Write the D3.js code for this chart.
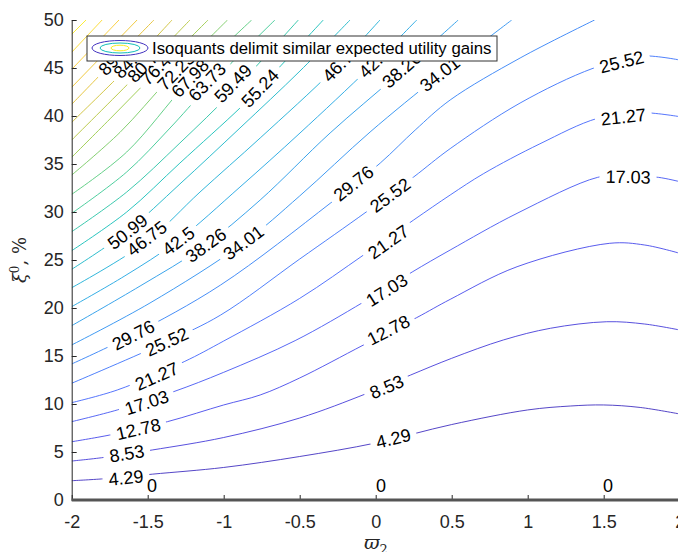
<!DOCTYPE html>
<html>
<head>
<meta charset="utf-8">
<script src="https://cdn.jsdelivr.net/npm/d3@7"></script>
<style>
  body { margin: 0; background: #fff; }
  text { font-family: "Liberation Sans", Arial, Helvetica, sans-serif; }
</style>
</head>
<body>
<div class="vis-contour"></div>
<script>
// isoquant levels and the lines, [varpi2, xi0 %]
const iso_4_29 = [[-2,2.01],[-1.79,2.21],[-1.47,2.69],[-1.0,3.39],[-0.5,4.53],[0.0,5.94],[0.5,7.86],[1.0,9.38],[1.28,9.79],[1.5,9.9],[1.74,9.64],[2.0,8.96]];
const iso_8_53 = [[-2,4.06],[-1.79,4.43],[-1.47,5.21],[-1.0,6.51],[-0.5,8.54],[-0.06,11.09],[0.23,13.02],[0.5,14.76],[0.84,16.67],[1.15,17.89],[1.52,18.57],[1.77,18.33],[2.0,17.71]];
const iso_12_78 = [[-2,6.07],[-1.75,6.77],[-1.37,8.16],[-1.0,9.9],[-0.76,10.94],[-0.5,12.71],[-0.08,16.15],[0.27,19.0],[0.49,20.9],[0.93,24.3],[1.54,26.74],[1.77,26.56],[2.0,25.7]];
const iso_17_03 = [[-2,8.16],[-1.7,9.38],[-1.33,11.28],[-1.0,13.3],[-0.53,16.6],[-0.08,20.62],[0.24,23.75],[0.49,26.04],[0.93,29.86],[1.46,33.61],[1.64,33.8],[1.86,33.61],[2.0,33.16]];
const iso_21_27 = [[-2,10.14],[-1.7,11.46],[-1.26,14.41],[-1.0,16.56],[-0.5,21.0],[-0.08,25.52],[0.25,29.17],[0.49,31.77],[0.71,34.0],[1.08,37.1],[1.46,39.76],[1.74,40.36],[2.0,39.93]];
const iso_25_52 = [[-2,12.16],[-1.37,16.51],[-1.02,19.27],[-0.5,25.1],[-0.06,30.03],[0.25,33.65],[0.49,36.6],[0.95,41.35],[1.43,44.97],[1.74,46.25],[2.0,45.83]];
const iso_29_76 = [[-2,14.17],[-1.6,17.19],[-1.02,22.4],[-0.3,30.9],[0.03,35.1],[0.26,38.54],[0.49,41.67],[0.95,46.04],[1.44,50]];
const iso_34_01 = [[-2,16.15],[-1.485,20.52],[-0.87,26.77],[-0.5,31.67],[-0.037,38.33],[0.403,44.06],[0.653,47.08],[0.895,50]];
const iso_38_26 = [[-2,18.16],[-1.55,22.29],[-1.134,26.39],[-0.76,31.25],[-0.3,38.23],[0.14,44.27],[0.543,50]];
const iso_42_5 = [[-2,20.14],[-1.65,23.35],[-1.31,26.91],[-0.893,32.6],[-0.498,38.23],[-0.037,45.1],[0.27,50]];
const iso_46_75 = [[-2,22.11],[-1.507,26.91],[-1.156,32.08],[-0.76,37.71],[-0.28,44.79],[0.028,50]];
const iso_50_99 = [[-2,24.03],[-1.638,27.95],[-1.288,32.92],[-0.893,38.75],[-0.498,44.69],[-0.169,50]];
const iso_55_24 = [[-2,25.97],[-1.638,30.0],[-1.288,35.1],[-0.893,40.83],[-0.762,42.92],[-0.345,50]];
const iso_59_49 = [[-2,27.95],[-1.638,32.08],[-1.288,37.19],[-0.939,42.6],[-0.509,50]];
const iso_63_73 = [[-2,29.86],[-1.638,34.17],[-1.353,38.75],[-1.112,42.92],[-0.663,50]];
const iso_67_98 = [[-2,31.84],[-1.638,36.25],[-1.233,43.6],[-0.816,50]];
const iso_72_23 = [[-2,33.85],[-1.682,38.3],[-1.364,43.8],[-0.975,50]];
const iso_76_47 = [[-2,35.7],[-1.748,39.7],[-1.485,43.93],[-1.103,50]];
const iso_80_72 = [[-2,37.5],[-1.572,44.27],[-1.222,50]];
const iso_84_97 = [[-2,39.34],[-1.661,44.61],[-1.34,50]];
const iso_89_21 = [[-2,41.22],[-1.77,44.97],[-1.459,50]];
const iso_93_46 = [[-2,42.99],[-1.57,50]];
const iso_97_7 = [[-2,44.86],[-1.689,50]];
const iso_101_95 = [[-2,46.64],[-1.8,50]];
const iso_106_2 = [[-2,48.51],[-1.906,50]];

const levels = [4.29, 8.53, 12.78, 17.03, 21.27, 25.52, 29.76, 34.01, 38.26, 42.5, 46.75, 50.99,
                55.24, 59.49, 63.73, 67.98, 72.23, 76.47, 80.72, 84.97, 89.21, 93.46, 97.7, 101.95, 106.2];
const isoLines = [iso_4_29, iso_8_53, iso_12_78, iso_17_03, iso_21_27, iso_25_52, iso_29_76, iso_34_01,
                  iso_38_26, iso_42_5, iso_46_75, iso_50_99, iso_55_24, iso_59_49, iso_63_73, iso_67_98,
                  iso_72_23, iso_76_47, iso_80_72, iso_84_97, iso_89_21, iso_93_46, iso_97_7, iso_101_95, iso_106_2];
const zeroLine = [[-2,0],[2,0]];

// in-line labels [level, varpi2, xi0]
const contourLabels = [
  [89.21,-1.702,46.25],[84.97,-1.603,45.94],[80.72,-1.511,45.52],[76.47,-1.426,45.21],[72.23,-1.314,44.69],
  [67.98,-1.222,43.96],[63.73,-1.11,43.57],[59.49,-0.94,43.4],[55.24,-0.762,42.92],
  [46.75,-0.229,45.56],[42.5,-0.011,45.6],[38.26,0.17,44.85],[34.01,0.421,44.4],
  [50.99,-1.633,27.96],[46.75,-1.507,27.26],[42.5,-1.299,27.0],[38.26,-1.118,26.56],[34.01,-0.871,26.82],
  [29.76,-1.595,17.19],[25.52,-1.375,16.49],[21.27,-1.441,12.92],[17.03,-1.507,10.16],[12.78,-1.562,7.4],
  [8.53,-1.638,4.86],[4.29,-1.643,2.34],
  [29.76,-0.147,32.99],[25.52,0.094,31.77],[21.27,0.083,26.91],[17.03,0.072,21.88],[12.78,0.083,17.71],
  [8.53,0.072,11.8],[4.29,0.116,6.43],
  [25.52,1.618,45.66],[21.27,1.629,39.93],[17.03,1.66,33.68],
  [0,-1.472,1.56],[0,0.035,1.56],[0,1.529,1.56]
];

const xTicks = [-2, -1.5, -1, -0.5, 0, 0.5, 1, 1.5, 2];
const yTicks = [0, 5, 10, 15, 20, 25, 30, 35, 40, 45, 50];
const legendText = 'Isoquants delimit similar expected utility gains';

// parula colormap stops (MATLAB default)
const parula = ['#3e26a8','#4743e7','#4367fd','#2d8cf3','#1ca9df','#12beb9','#45cb89','#9dc943','#e0bc2b','#fccd31','#f9fb15'];
const cMax = 110;

const margin = {top: 20, left: 71.7};
const width = 608, height = 480;
const axisColor = '#262626';

const svg = d3.select('.vis-contour').append('svg')
    .attr('width', 678).attr('height', 552);

const g = svg.append('g').attr('transform', `translate(${margin.left},${margin.top})`);

const x = d3.scaleLinear().domain([-2, 2]).range([0, width]);
const y = d3.scaleLinear().domain([0, 50]).range([height, 0]);
const color = d3.scaleLinear()
    .domain(parula.map((c, i) => i / (parula.length - 1) * cMax))
    .range(parula);

svg.append('defs').append('clipPath').attr('id', 'plotclip')
  .append('rect').attr('x', 0).attr('y', 0).attr('width', width).attr('height', height);

const lineGen = d3.line()
    .x(d => x(d[0])).y(d => y(d[1]))
    .curve(d3.curveCatmullRom.alpha(0.5));

const linesG = g.append('g').attr('clip-path', 'url(#plotclip)');
const pathByLevel = {};
levels.forEach((lv, i) => {
  const p = linesG.append('path')
      .attr('d', lineGen(isoLines[i]))
      .attr('fill', 'none')
      .attr('stroke', color(lv))
      .attr('stroke-width', 0.9);
  pathByLevel[lv] = p.node();
});

// axes
const xAxis = g.append('g')
    .attr('transform', `translate(0,${height})`)
    .call(d3.axisBottom(x).tickValues(xTicks).tickSizeInner(-5).tickSizeOuter(0)
          .tickPadding(15).tickFormat(d => String(d)));
const yAxis = g.append('g')
    .call(d3.axisLeft(y).tickValues(yTicks).tickSizeInner(-5).tickSizeOuter(0)
          .tickPadding(8).tickFormat(d => String(d)));
[xAxis, yAxis].forEach(a => {
  a.select('.domain').attr('stroke', axisColor);
  a.selectAll('.tick line').attr('stroke', axisColor);
  a.selectAll('.tick text').attr('fill', axisColor).style('font-size', '18px')
      .style('font-family', '"Liberation Sans", Arial, sans-serif');
});

// zero isoquant lies on the bottom edge
g.append('path')
    .attr('d', d3.line().x(d => x(d[0])).y(d => y(d[1]))(zeroLine))
    .attr('stroke', '#555').attr('stroke-width', 3).attr('fill', 'none');

// labels along the isoquants: gaps first, then the texts
const gapsG = g.append('g');
const labelsG = g.append('g');
contourLabels.forEach(([lv, lx, ly]) => {
  const px = x(lx), py = y(ly);
  let angle = 0;
  const node = pathByLevel[lv];
  if (node) {
    const total = node.getTotalLength();
    let best = 0, bestD = Infinity;
    for (let s = 0; s <= total; s += 1) {
      const pt = node.getPointAtLength(s);
      const dd = (pt.x - px) ** 2 + (pt.y - py) ** 2;
      if (dd < bestD) { bestD = dd; best = s; }
    }
    const a = node.getPointAtLength(Math.max(0, best - 12));
    const b = node.getPointAtLength(Math.min(total, best + 12));
    angle = Math.atan2(b.y - a.y, b.x - a.x) * 180 / Math.PI;
    if (angle > 90) angle -= 180;
    if (angle < -90) angle += 180;
  }
  const tr = `translate(${px},${py}) rotate(${angle})`;
  const t = labelsG.append('text')
      .attr('transform', tr)
      .attr('text-anchor', 'middle')
      .attr('dy', '0.36em')
      .style('font-size', '18px')
      .attr('fill', '#000')
      .text(String(lv));
  const w = t.node().getComputedTextLength();
  gapsG.append('rect')
      .attr('transform', tr)
      .attr('x', -w / 2 - 6).attr('y', -8).attr('width', w + 12).attr('height', 16)
      .attr('fill', '#fff');
});

// axis titles
svg.append('text')
    .attr('transform', 'translate(26,260) rotate(-90)')
    .attr('text-anchor', 'middle')
    .style('font-family', '"DejaVu Serif", "Liberation Serif", serif')
    .style('font-size', '18px')
    .attr('fill', axisColor)
    .call(t => {
      t.append('tspan').style('font-style', 'italic').text('ξ');
      t.append('tspan').attr('dy', -7).style('font-size', '12px').text('0');
      t.append('tspan').attr('dy', 7).text(', %');
    });

svg.append('text')
    .attr('x', 376).attr('y', 549)
    .attr('text-anchor', 'middle')
    .style('font-family', '"DejaVu Serif", "Liberation Serif", serif')
    .style('font-size', '19px')
    .attr('fill', axisColor)
    .call(t => {
      t.append('tspan').style('font-style', 'italic').text('ϖ');
      t.append('tspan').attr('dy', 5).style('font-size', '13px').text('2');
    });

// legend
const leg = svg.append('g');
leg.append('rect')
    .attr('x', 87).attr('y', 36).attr('width', 410).attr('height', 25)
    .attr('fill', '#fff').attr('stroke', '#333').attr('stroke-width', 1);
[[28, 7.5, 4], [20, 5, 55], [9, 2.8, 106]].forEach(([rx, ry, lv]) => {
  leg.append('ellipse')
      .attr('cx', 120).attr('cy', 48).attr('rx', rx).attr('ry', ry)
      .attr('fill', 'none').attr('stroke', color(lv)).attr('stroke-width', 1);
});
leg.append('text')
    .attr('x', 152).attr('y', 54)
    .style('font-size', '16.8px')
    .attr('fill', '#000')
    .text(legendText);
</script>
</body>
</html>
